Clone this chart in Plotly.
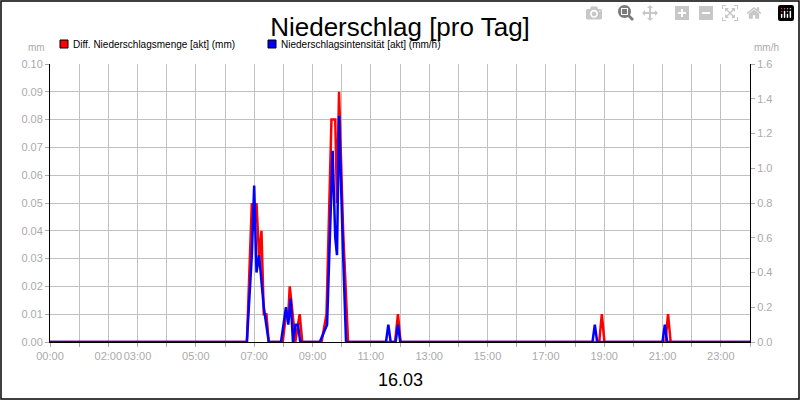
import plotly.graph_objects as go

# data (hours of day)
red_h = [0, 6.75, 6.92, 7.0, 7.08, 7.17, 7.25, 7.33, 7.42, 7.5,
         7.98, 8.09, 8.17, 8.22, 8.32, 8.41, 8.56, 8.65,
         9.31, 9.48, 9.65, 9.78, 9.84, 9.91, 10.05, 10.22,
         11.83, 11.93, 12.02, 18.83, 18.92, 19.01, 21.1, 21.19, 21.28, 24]
red_v = [0, 0, 0.05, 0.04, 0.05, 0.03, 0.04, 0.01, 0.01, 0,
         0, 0.01, 0.01, 0.02, 0.01, 0, 0.01, 0,
         0, 0.01, 0.08, 0.08, 0.05, 0.09, 0.04, 0,
         0, 0.01, 0, 0, 0.01, 0, 0, 0.01, 0, 0]
blue_h = [0, 6.75, 6.92, 7.0, 7.08, 7.17, 7.33, 7.42, 7.5,
          7.92, 8.09, 8.17, 8.25, 8.33, 8.42, 8.5, 8.58,
          9.25, 9.5, 9.69, 9.78, 9.84, 9.91, 10.05, 10.15,
          11.52, 11.6, 11.68, 11.85, 11.93, 12.01,
          18.6, 18.68, 18.76, 21.0, 21.08, 21.16, 24]
blue_v = [0, 0, 0.5, 0.9, 0.4, 0.5, 0.2, 0.1, 0,
          0, 0.2, 0.1, 0.25, 0, 0.1, 0.1, 0,
          0, 0.1, 1.1, 0.6, 0.5, 1.3, 0.5, 0,
          0, 0.1, 0, 0, 0.1, 0,
          0, 0.1, 0, 0, 0.1, 0, 0]
tick_vals = [0, 2, 3, 5, 7, 9, 11, 13, 15, 17, 19, 21, 23]
tick_text = ["%02d:00" % h for h in tick_vals]


def px(x, y):
    # pixel -> paper coords of the plot area (50..750, 64..342)
    return (x - 50) / 700, (342 - y) / 278


fig = go.Figure()
fig.add_trace(go.Scatter(x=blue_h, y=blue_v, mode="lines", name="Niederschlagsintensität [akt] (mm/h)",
                         line=dict(color="#0000ff", width=2.5), yaxis="y2"))
fig.add_trace(go.Scatter(x=red_h, y=red_v, mode="lines", name="Diff. Niederschlagsmenge [akt] (mm)",
                         line=dict(color="#ff0000", width=2.5)))

gray = "#aaaaaa"
x0, y1 = px(1, 1)
x1, y0 = px(799, 399)
shapes = [dict(type="rect", xref="paper", yref="paper", x0=x0, x1=x1, y0=y0, y1=y1,
               line=dict(color="black", width=1.5))]
annotations = []
for sx, col, txt in [(60, "#ff0000", "Diff. Niederschlagsmenge [akt] (mm)"),
                     (268, "#0000ff", "Niederschlagsintensität [akt] (mm/h)")]:
    a0, b1 = px(sx, 40)
    a1, b0 = px(sx + 8, 48)
    shapes.append(dict(type="rect", xref="paper", yref="paper", x0=a0, x1=a1, y0=b0, y1=b1,
                       fillcolor=col, line=dict(color="black", width=1)))
    tx, ty = px(sx + 11, 44)
    annotations.append(dict(text=txt, xref="paper", yref="paper", x=tx, y=ty, showarrow=False,
                            xanchor="left", yanchor="middle", font=dict(size=10, color="black")))
mx, my = px(47, 48)
annotations.append(dict(text="mm", xref="paper", yref="paper", x=mx, y=my, showarrow=False,
                        xanchor="right", yanchor="middle", font=dict(size=10, color=gray)))
mx, my = px(752, 48)
annotations.append(dict(text="mm/h", xref="paper", yref="paper", x=mx, y=my, showarrow=False,
                        xanchor="left", yanchor="middle", font=dict(size=10, color=gray)))
dx, dy = px(400, 380)
annotations.append(dict(text="16.03", xref="paper", yref="paper", x=dx, y=dy, showarrow=False,
                        yanchor="middle", font=dict(size=18, color="black")))

fig.update_layout(
    width=800, height=400, margin=dict(l=50, r=50, t=64, b=58),
    paper_bgcolor="white", plot_bgcolor="white",
    font=dict(family="Liberation Sans, Arial", size=11, color=gray),
    title=dict(text="Niederschlag [pro Tag]", x=0.5, xanchor="center", y=0.955,
               font=dict(size=26, color="black")),
    showlegend=False,
    xaxis=dict(range=[0, 24], tickvals=tick_vals, ticktext=tick_text, showgrid=False,
               tickangle=0, ticks="outside", ticklen=4, tickcolor=gray, showline=True,
               linecolor="black", zeroline=False,
               minor=dict(dtick=1, showgrid=True, gridcolor="#c0c0c0", ticks="outside",
                          ticklen=4, tickcolor=gray)),
    yaxis=dict(range=[0, 0.1], dtick=0.01, tickformat=".2f", gridcolor="#c0c0c0",
               ticks="outside", ticklen=4, tickcolor=gray, showline=True, linecolor="black",
               zeroline=False),
    yaxis2=dict(range=[0, 1.6], dtick=0.2, tickformat=".1f", overlaying="y", side="right",
                showgrid=False, ticks="outside", ticklen=4, tickcolor=gray, showline=True,
                linecolor="black", zeroline=False),
    annotations=annotations,
    shapes=shapes,
)

fig.write_html("out.html", post_script="document.body.style.margin='0';")
